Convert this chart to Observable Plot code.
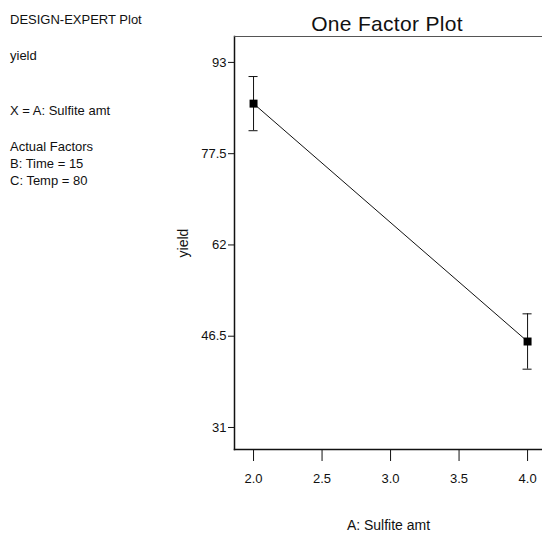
<!DOCTYPE html>
<html><head><meta charset="utf-8">
<script src="https://cdn.jsdelivr.net/npm/d3@7"></script>
<script src="https://cdn.jsdelivr.net/npm/@observablehq/plot@0.6"></script>
<style>
body{margin:0;background:#fff;font-family:"Liberation Sans",Arial,sans-serif;overflow:hidden;}
#wrap{position:relative;width:542px;height:537px;overflow:hidden;}
.note{position:absolute;left:10px;font-size:13px;color:#111;line-height:17px;}
#title{position:absolute;left:287px;width:200px;text-align:center;top:12px;font-size:21px;color:#111;letter-spacing:0.3px;}
</style>
</head><body>
<div id="wrap">
<div id="chart" style="position:absolute;left:0;top:0"></div>
<div class="note" style="top:11px">DESIGN-EXPERT Plot</div>
<div class="note" style="top:47px">yield</div>
<div class="note" style="top:102px">X = A: Sulfite amt</div>
<div class="note" style="top:138px">Actual Factors<br>B: Time = 15<br>C: Temp = 80</div>
<div id="title">One Factor Plot</div>
</div>
<script>
const sulfite = [2.0, 4.0];
const yieldMean = [86.0, 45.6];
const yieldLow = [81.4, 40.9];
const yieldHigh = [90.6, 50.3];
const yTicks = [31, 46.5, 62, 77.5, 93];
const xTicks = [2.0, 2.5, 3.0, 3.5, 4.0];
const capHalf = 0.033;

const data = sulfite.map((x, i) => ({x, y: yieldMean[i], lo: yieldLow[i], hi: yieldHigh[i]}));

const plot = Plot.plot({
  width: 542,
  height: 537,
  marginLeft: 234,
  marginTop: 36,
  marginBottom: 88,
  marginRight: 0,
  style: {fontFamily: "Liberation Sans, Arial, sans-serif", fontSize: "13px", color: "#111", background: "white"},
  x: {domain: [1.861, 4.109], ticks: xTicks, tickFormat: d3.format(".1f"), tickSize: 12, tickPadding: 12,
      label: "A: Sulfite amt", labelAnchor: "center", labelArrow: "none", labelOffset: 80},
  y: {domain: [27.26, 97.4], ticks: yTicks, tickFormat: d => String(d), tickSize: 6, tickPadding: 2,
      label: "yield", labelAnchor: "center", labelArrow: "none", labelOffset: 56},
  marks: [
    Plot.frame({anchor: "left", stroke: "#111", strokeWidth: 1.5}),
    Plot.frame({anchor: "bottom", stroke: "#111", strokeWidth: 1.5}),
    Plot.frame({anchor: "top", stroke: "#555", strokeWidth: 1}),
    Plot.line(data, {x: "x", y: "y", stroke: "#111", strokeWidth: 1}),
    Plot.ruleX(data, {x: "x", y1: "lo", y2: "hi", stroke: "#111", strokeWidth: 1}),
    Plot.ruleY(data, {y: "hi", x1: d => d.x - capHalf, x2: d => d.x + capHalf, stroke: "#111"}),
    Plot.ruleY(data, {y: "lo", x1: d => d.x - capHalf, x2: d => d.x + capHalf, stroke: "#111"}),
    Plot.dot(data, {x: "x", y: "y", symbol: "square", r: 4.5, fill: "#000"})
  ]
});
plot.querySelectorAll('g[aria-label="x-axis label"], g[aria-label="y-axis label"]').forEach(e => e.style.fontSize = "14px");
document.getElementById("chart").appendChild(plot);
</script>
</body></html>
